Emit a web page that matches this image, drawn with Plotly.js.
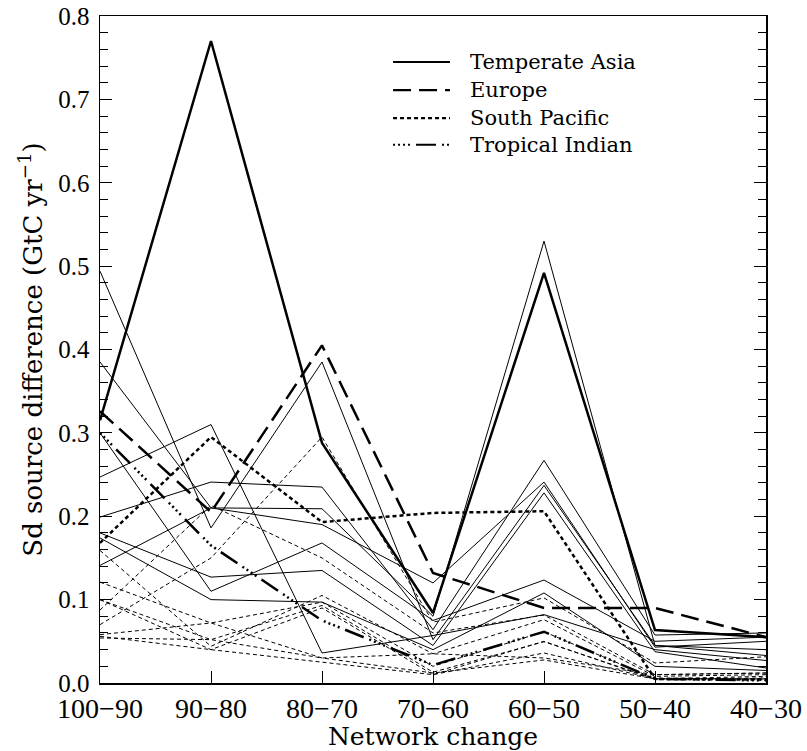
<!DOCTYPE html>
<html>
<head>
<meta charset="utf-8">
<script src="https://cdn.plot.ly/plotly-3.0.1.min.js"></script>
<style>html,body{margin:0;padding:0;background:#fff;}</style>
</head>
<body>
<div id="chart" style="width:807px;height:751px;"></div>
<script>
// Categories (network change)
const categories = ["100\u221290","90\u221280","80\u221270","70\u221260","60\u221250","50\u221240","40\u221230"];

// Highlighted regions
const temperateAsia  = [0.315, 0.770, 0.288, 0.084, 0.492, 0.0635, 0.055];
const europe         = [0.326, 0.205, 0.405, 0.132, 0.090, 0.090, 0.055];
const southPacific   = [0.168, 0.295, 0.193, 0.204, 0.206, 0.005, 0.004];
const tropicalIndian = [0.300, 0.165, 0.075, 0.0215, 0.0615, 0.005, 0.003];

// Other land regions (thin solid)
const land1 = [0.494, 0.186, 0.385, 0.052, 0.237, 0.045, 0.040];
const land2 = [0.385, 0.210, 0.190, 0.120, 0.241, 0.043, 0.050];
const land3 = [0.247, 0.310, 0.036, 0.057, 0.082, 0.040, 0.027];
const land4 = [0.199, 0.241, 0.235, 0.064, 0.267, 0.0575, 0.060];
const land5 = [0.141, 0.210, 0.209, 0.080, 0.530, 0.045, 0.033];
const land6 = [0.180, 0.127, 0.135, 0.045, 0.228, 0.0375, 0.018];
const land7 = [0.174, 0.100, 0.097, 0.040, 0.108, 0.020, 0.015];
const land8 = [0.300, 0.110, 0.168, 0.075, 0.1235, 0.050, 0.055];

// Other ocean regions (thin dashed)
const ocean1 = [0.070, 0.150, 0.295, 0.073, 0.102, 0.024, 0.0315];
const ocean2 = [0.0875, 0.213, 0.150, 0.060, 0.0815, 0.010, 0.012];
const ocean3 = [0.159, 0.044, 0.105, 0.035, 0.076, 0.008, 0.010];
const ocean4 = [0.121, 0.072, 0.097, 0.020, 0.0615, 0.005, 0.008];
const ocean5 = [0.100, 0.052, 0.093, 0.013, 0.0495, 0.005, 0.006];
const ocean6 = [0.100, 0.040, 0.090, 0.010, 0.036, 0.005, 0.005];
const ocean7 = [0.058, 0.072, 0.030, 0.012, 0.0276, 0.005, 0.005];
const ocean8 = [0.056, 0.040, 0.025, 0.010, 0.050, 0.004, 0.004];
const ocean9 = [0.054, 0.052, 0.030, 0.035, 0.030, 0.010, 0.012];

const legendNames = ["Temperate Asia", "Europe", "South Pacific", "Tropical Indian"];

const SERIF = "DejaVu Serif, Liberation Serif, serif";
const TIMES = "Liberation Serif, DejaVu Serif, serif";
const thinSolid = {color: "#000", width: 1};
const thinDash = {color: "#000", width: 1, dash: "4px,3px"};
const highlightStyles = [
  {color: "#000", width: 2.5},
  {color: "#000", width: 2.5, dash: "18px,8px"},
  {color: "#000", width: 2.5, dash: "4px,3px"},
  {color: "#000", width: 2.5, dash: "2px,3px,2px,3px,2px,3px,2px,6px,20px,6px"}
];

const traces = [];
[land1, land2, land3, land4, land5, land6, land7, land8].forEach((y, i) => {
  traces.push({x: categories, y: y, type: "scatter", mode: "lines", line: thinSolid, showlegend: false, name: "land " + (i + 1), hoverinfo: "skip"});
});
[ocean1, ocean2, ocean3, ocean4, ocean5, ocean6, ocean7, ocean8, ocean9].forEach((y, i) => {
  traces.push({x: categories, y: y, type: "scatter", mode: "lines", line: thinDash, showlegend: false, name: "ocean " + (i + 1), hoverinfo: "skip"});
});
[temperateAsia, europe, southPacific, tropicalIndian].forEach((y, i) => {
  traces.push({x: categories, y: y, type: "scatter", mode: "lines", line: highlightStyles[i], showlegend: false, name: legendNames[i]});
});

// Custom legend (long line samples as in the original)
const legX0 = 0.44, legX1 = 0.5255, legTextX = 0.552;
const legRows = [0.931, 0.889, 0.847, 0.807];
const shapes = [], annotations = [];
legendNames.forEach((n, i) => {
  const st = highlightStyles[i];
  shapes.push({type: "line", xref: "paper", yref: "paper", x0: legX0, x1: legX1, y0: legRows[i], y1: legRows[i],
    line: {color: st.color, width: 2.2, dash: st.dash || "solid"}});
  annotations.push({xref: "paper", yref: "paper", x: legTextX, y: legRows[i], xanchor: "left", yanchor: "middle",
    text: n, showarrow: false, font: {family: SERIF, size: 21, color: "#000"}});
});

const layout = {
  width: 807, height: 751,
  margin: {l: 100, r: 41, t: 16, b: 68},
  paper_bgcolor: "#fff", plot_bgcolor: "#fff",
  showlegend: false,
  font: {family: SERIF, color: "#000"},
  xaxis: {
    type: "category", range: [0, 6],
    showline: true, linecolor: "#000", linewidth: 1.5, mirror: true,
    ticks: "inside", ticklen: 12, tickwidth: 1, tickcolor: "#000",
    showgrid: false, zeroline: false,
    tickfont: {family: TIMES, size: 28, color: "#000"},
    title: {text: "Network change", font: {family: SERIF, size: 25, color: "#000"}, standoff: 6}
  },
  yaxis: {
    range: [0, 0.8], dtick: 0.1, tick0: 0, tickformat: ".1f",
    showline: true, linecolor: "#000", linewidth: 1.5, mirror: "ticks",
    ticks: "inside", ticklen: 12, tickwidth: 1, tickcolor: "#000",
    minor: {dtick: 0.02, ticks: "inside", ticklen: 8, tickwidth: 1, tickcolor: "#000", showgrid: false},
    showgrid: false, zeroline: false,
    ticklabelstandoff: 4,
    tickfont: {family: TIMES, size: 25, color: "#000"},
    title: {text: "Sd source difference (GtC yr<sup>\u22121</sup>)\u00a0\u00a0\u00a0\u00a0\u00a0", font: {family: SERIF, size: 26, color: "#000"}, standoff: 8}
  },
  shapes: shapes,
  annotations: annotations
};

Plotly.newPlot("chart", traces, layout, {staticPlot: true, displayModeBar: false});
</script>
</body>
</html>
